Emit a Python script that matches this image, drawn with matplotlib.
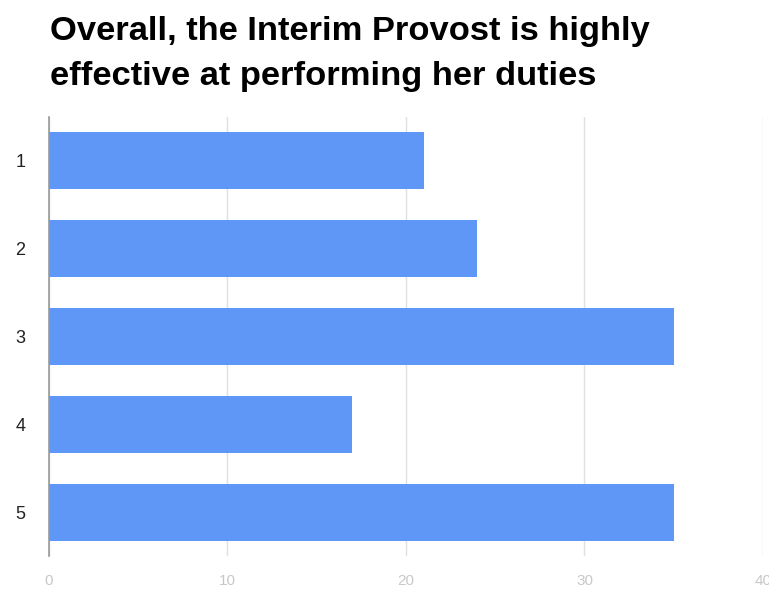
import matplotlib.pyplot as plt
import numpy as np

categories = ['1', '2', '3', '4', '5']
values = [21, 24, 35, 17, 35]
x_ticks = [0, 10, 20, 30, 40]

plt.rcParams['font.family'] = ['Liberation Sans', 'DejaVu Sans']

fig = plt.figure(figsize=(7.69, 5.90), dpi=100)
ax = fig.add_axes([0.0637, 0.0576, 0.9285, 0.7441])

pos = np.arange(len(categories))
ax.barh(pos, values, height=0.65, color='#5e97f6', zorder=3)

ax.set_xlim(0, 40)
ax.set_ylim(len(categories) - 0.5, -0.5)
ax.set_yticks(pos)
ax.set_yticklabels(categories, fontsize=13, color='#222222')
ax.set_xticks(x_ticks)
ax.set_xticklabels([str(t) for t in x_ticks], fontsize=11, color='#c8c8c8')
ax.tick_params(axis='both', length=0)
ax.tick_params(axis='y', pad=17)
ax.tick_params(axis='x', pad=13)

ax.grid(axis='x', color='#e0e0e0', linewidth=1, zorder=0)
for s in ['top', 'right', 'bottom']:
    ax.spines[s].set_visible(False)
ax.spines['left'].set_color('#999999')
ax.spines['left'].set_linewidth(1.2)
ax.spines['left'].set_zorder(4)

fig.text(0.065, 0.973, 'Overall, the Interim Provost is highly\neffective at performing her duties',
         fontsize=24.8, fontweight='bold', va='top', ha='left', linespacing=1.58, color='#000000')

fig.savefig('out.png', dpi=100)
